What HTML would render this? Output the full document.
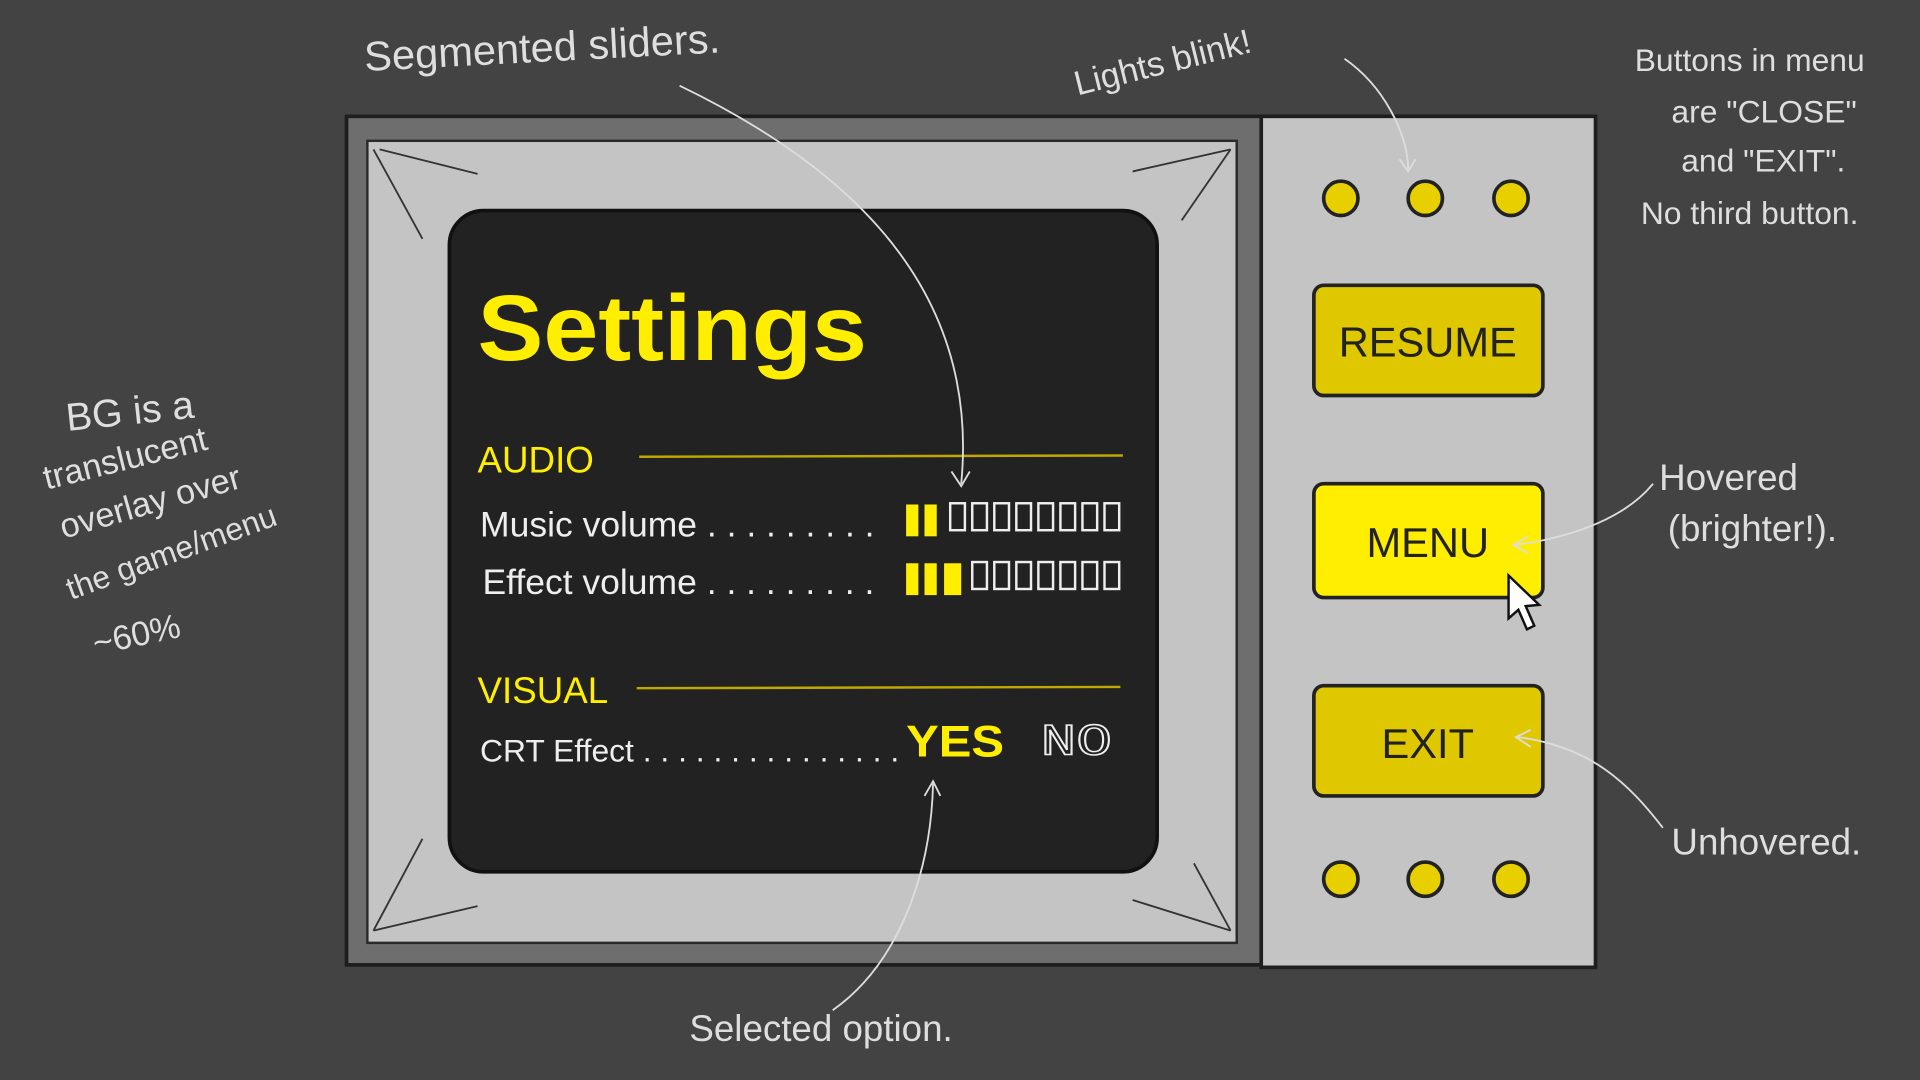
<!DOCTYPE html>
<html><head><meta charset="utf-8"><style>
html,body{margin:0;padding:0;background:#434343;overflow:hidden}
svg{display:block}
.note{font-family:"Liberation Sans",sans-serif;fill:#dedede;font-size:28px}
</style></head><body>
<svg width="1920" height="1080" viewBox="0 0 1568 882" xmlns="http://www.w3.org/2000/svg">
<rect width="1568" height="882" fill="#434343"/>
<rect x="283" y="95" width="750" height="693" fill="#6e6e6e" stroke="#1e1e1e" stroke-width="3"/>
<rect x="300" y="115" width="710" height="655" fill="#c4c4c4" stroke="#2a2a2a" stroke-width="2"/>
<g stroke="#333" stroke-width="1.5" fill="none">
<line x1="305" y1="122" x2="345" y2="195"/><line x1="310" y1="122" x2="390" y2="142"/>
<line x1="1005" y1="122" x2="965" y2="180"/><line x1="1005" y1="122" x2="925" y2="140"/>
<line x1="305" y1="760" x2="345" y2="685"/><line x1="305" y1="760" x2="390" y2="740"/>
<line x1="1005" y1="760" x2="975" y2="705"/><line x1="1005" y1="760" x2="925" y2="735"/>
</g>
<rect x="367" y="172" width="578" height="540" rx="28" fill="#222" stroke="#111" stroke-width="3"/>
<rect x="1030" y="95" width="273" height="695" fill="#c4c4c4" stroke="#1e1e1e" stroke-width="3"/>
<g fill="#e8d000" stroke="#222" stroke-width="3">
<circle cx="1095" cy="162" r="14"/><circle cx="1164" cy="162" r="14"/><circle cx="1234" cy="162" r="14"/>
<circle cx="1095" cy="718" r="14"/><circle cx="1164" cy="718" r="14"/><circle cx="1234" cy="718" r="14"/>
</g>
<g stroke="#222" stroke-width="3">
<rect x="1073" y="233" width="187" height="90" rx="8" fill="#e0c800"/>
<rect x="1073" y="395" width="187" height="93" rx="8" fill="#ffee00"/>
<rect x="1073" y="560" width="187" height="90" rx="8" fill="#e0c800"/>
</g>
<g font-family="Liberation Sans,sans-serif" font-size="34" fill="#222" text-anchor="middle">
<text x="1166" y="291">RESUME</text><text x="1166" y="455">MENU</text><text x="1166" y="619">EXIT</text>
</g>
<path d="M1232 470 L1232 505 L1240 498 L1247 514 L1253 511 L1246 495 L1257 494 Z" fill="#fff" stroke="#111" stroke-width="2"/>
<text x="390" y="294" font-family="Liberation Sans,sans-serif" font-weight="bold" font-size="76" fill="#ffee00" textLength="318" lengthAdjust="spacingAndGlyphs">Settings</text>
<text x="390" y="386" font-family="Liberation Sans,sans-serif" font-size="30" fill="#ffee00">AUDIO</text>
<line x1="522" y1="373" x2="917" y2="372" stroke="#bfa800" stroke-width="2"/>
<text x="390" y="574" font-family="Liberation Sans,sans-serif" font-size="30" fill="#ffee00">VISUAL</text>
<line x1="520" y1="562" x2="915" y2="561" stroke="#bfa800" stroke-width="2"/>
<g font-family="Liberation Sans,sans-serif" font-size="29" fill="#eee">
<text x="392" y="438">Music volume . . . . . . . . .</text>
<text x="394" y="485">Effect volume . . . . . . . . .</text>
<text x="392" y="622" font-size="26">CRT Effect . . . . . . . . . . . . . . .</text>
</g>
<g fill="#ffee00">
<rect x="740" y="412" width="10" height="26"/><rect x="755" y="412" width="10" height="26"/>
<rect x="740" y="460" width="10" height="26"/><rect x="755" y="460" width="10" height="26"/><rect x="771" y="460" width="14" height="26"/>
</g>
<g fill="none" stroke="#eee" stroke-width="2">
<rect x="776" y="411" width="12" height="22"/><rect x="794" y="411" width="12" height="22"/><rect x="812" y="411" width="12" height="22"/>
<rect x="830" y="411" width="12" height="22"/><rect x="848" y="411" width="12" height="22"/><rect x="866" y="411" width="12" height="22"/>
<rect x="884" y="411" width="12" height="22"/><rect x="902" y="411" width="12" height="22"/>
<rect x="794" y="459" width="12" height="22"/><rect x="812" y="459" width="12" height="22"/><rect x="830" y="459" width="12" height="22"/>
<rect x="848" y="459" width="12" height="22"/><rect x="866" y="459" width="12" height="22"/><rect x="884" y="459" width="12" height="22"/>
<rect x="902" y="459" width="12" height="22"/>
</g>
<text x="740" y="618" font-family="Liberation Sans,sans-serif" font-weight="bold" font-size="36" fill="#ffee00" textLength="80" lengthAdjust="spacingAndGlyphs">YES</text>
<text x="850" y="616" font-family="Liberation Mono,monospace" font-size="36" fill="none" stroke="#eee" stroke-width="1.3" textLength="58" lengthAdjust="spacingAndGlyphs">NO</text>
<g class="note">
<text x="298" y="58" font-size="34" transform="rotate(-3 298 58)">Segmented sliders.</text>
<text x="880" y="78" transform="rotate(-14 880 78)">Lights blink!</text>
<text x="1335" y="58" font-size="26">Buttons in menu</text>
<text x="1365" y="100" font-size="26">are "CLOSE"</text>
<text x="1373" y="140" font-size="26">and "EXIT".</text>
<text x="1340" y="183" font-size="26">No third button.</text>
<text x="1355" y="400" font-size="30">Hovered</text>
<text x="1362" y="442" font-size="30">(brighter!).</text>
<text x="1365" y="698" font-size="30">Unhovered.</text>
<text x="563" y="850" font-size="30">Selected option.</text>
<text x="55" y="352" font-size="32" transform="rotate(-6 55 352)">BG is a</text>
<text x="38" y="400" transform="rotate(-14 38 400)">translucent</text>
<text x="52" y="440" transform="rotate(-16 52 440)">overlay over</text>
<text x="58" y="490" font-size="26" transform="rotate(-20 58 490)">the game/menu</text>
<text x="78" y="535" transform="rotate(-12 78 535)">~60%</text>
</g>
<g fill="none" stroke="#ddd" stroke-width="1.5">
<path d="M555 70 C700 140 800 240 785 395"/><path d="M777 385 L785 397 L792 385"/>
<path d="M1098 48 C1130 70 1150 110 1150 138"/><path d="M1143 130 L1150 140 L1156 130"/>
<path d="M1350 395 C1330 420 1290 438 1238 445"/><path d="M1248 438 L1236 445 L1248 452"/>
<path d="M1358 676 C1330 640 1300 610 1240 602"/><path d="M1250 596 L1238 602 L1250 610"/>
<path d="M680 825 C730 790 760 720 762 640"/><path d="M755 650 L762 638 L768 650"/>
</g>
</svg>
</body></html>
